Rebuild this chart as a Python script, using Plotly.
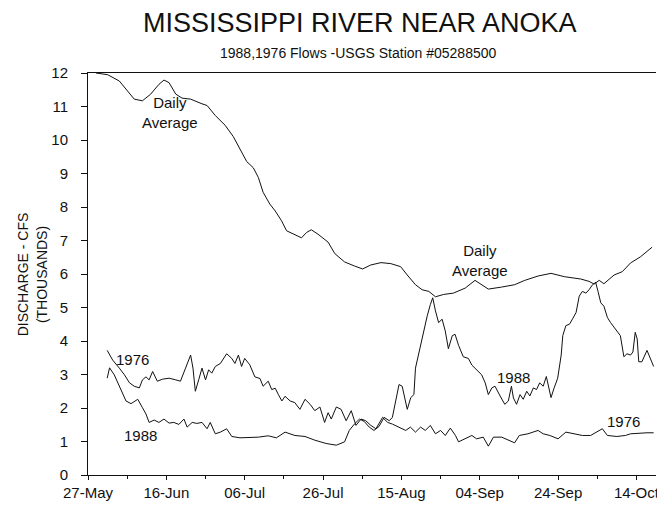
import plotly.graph_objects as go

# x positions are days after 27-May
tick_days = [0, 20, 40, 60, 80, 100, 120, 140]
tick_labels = ["27-May", "16-Jun", "06-Jul", "26-Jul", "15-Aug", "04-Sep", "24-Sep", "14-Oct"]

avg_day = [2, 5, 8.0, 10.1, 11.8, 13.9, 16.0, 18.1, 19.4, 20.7,
           22.4, 24.0, 26.2, 29.1, 30.4, 32.5, 35.0, 37.1, 38.8, 40.5,
           42.2, 43.5, 44.7, 46.4, 47.8, 49.4, 50.7, 52.4, 54.5, 55.8,
           57.0, 58.7, 61.3, 63.0, 65.5, 68.0, 70.1, 72.2, 74.8, 77.3,
           79.8, 81.5, 83.6, 85.3, 87.0, 88.7, 90.8, 93.3, 96.3, 98.8,
           102.2, 105.6, 108.9, 111.5, 114.9, 118.2, 121.6, 125.8, 127.9, 129.2,
           130.5, 131.7, 134.3, 136.4, 138.5, 141.0, 144.0]
avg_flow = [12.0, 11.95, 11.76, 11.47, 11.22, 11.17, 11.37, 11.66, 11.79, 11.71,
            11.37, 11.25, 11.22, 11.08, 11.03, 10.73, 10.44, 10.10, 9.71, 9.36,
            9.17, 8.88, 8.44, 8.09, 7.88, 7.59, 7.29, 7.19, 7.08, 7.24,
            7.32, 7.19, 6.95, 6.61, 6.36, 6.24, 6.15, 6.27, 6.34, 6.31,
            6.22, 5.97, 5.68, 5.53, 5.48, 5.32, 5.39, 5.43, 5.58, 5.81,
            5.55, 5.61, 5.68, 5.81, 5.94, 6.02, 5.92, 5.85, 5.78, 5.70,
            5.81, 5.71, 5.97, 6.07, 6.33, 6.51, 6.80]

day_1988 = [4.9, 5.5, 6.7, 8.4, 9.7, 11.0, 12.7, 13.9, 14.8, 15.6,
            16.9, 18.1, 19.4, 20.7, 21.9, 23.2, 24.5, 25.3, 26.6, 27.8,
            29.1, 30.4, 31.2, 32.5, 33.8, 35.4, 36.7, 38.8, 41.3, 43.5,
            46.0, 48.1, 50.3, 52.8, 55.4, 57.9, 60.8, 63.4, 65.5, 66.7,
            68.0, 69.3, 70.5, 71.8, 73.0, 74.3, 75.6, 76.9, 77.7, 78.6,
            79.4, 80.2, 81.5, 82.4, 83.2, 83.6, 84.5, 85.3, 86.6, 87.4,
            88.0, 88.7, 89.5, 90.4, 91.2, 92.0, 93.0, 93.7, 94.6, 95.8,
            97.1, 98.0, 99.2, 100.5, 101.4, 102.2, 103.1, 103.9, 105.2, 106.4,
            107.3, 108.1, 108.6, 109.4, 110.3, 111.1, 112.0, 112.8, 113.7, 114.5,
            115.3, 116.2, 117.0, 117.5, 118.2, 119.0, 119.9, 120.8, 121.2, 122.0,
            122.9, 123.7, 124.6, 125.4, 126.2, 127.1, 127.9, 128.8, 129.6, 130.2,
            130.9, 131.7, 132.6, 133.4, 134.7, 135.9, 136.8, 137.6, 138.5, 139.1,
            139.7, 140.2, 140.6, 141.4, 142.7, 143.5, 144.4]
flow_1988 = [2.89, 3.20, 2.99, 2.55, 2.21, 2.13, 2.26, 2.01, 1.82, 1.57,
             1.64, 1.57, 1.67, 1.55, 1.57, 1.51, 1.67, 1.43, 1.57, 1.54,
             1.57, 1.38, 1.57, 1.23, 1.28, 1.38, 1.15, 1.11, 1.11, 1.13,
             1.17, 1.11, 1.28, 1.18, 1.15, 1.04, 0.94, 0.89, 0.99, 1.33,
             1.52, 1.67, 1.60, 1.43, 1.33, 1.45, 1.72, 1.62, 1.72, 2.21,
             2.70, 2.65, 1.96, 2.31, 2.40, 3.19, 3.67, 4.16, 4.75, 5.09,
             5.29, 4.90, 4.55, 4.65, 4.30, 3.77, 4.16, 4.20, 3.87, 3.53,
             3.48, 3.28, 3.15, 2.99, 2.75, 2.40, 2.60, 2.65, 2.36, 2.11,
             2.21, 2.65, 2.30, 2.11, 2.40, 2.26, 2.50, 2.36, 2.60, 2.55,
             2.75, 2.65, 2.94, 2.65, 2.31, 2.60, 2.89, 3.58, 4.16, 4.46,
             4.50, 4.66, 4.85, 5.34, 5.48, 5.43, 5.53, 5.68, 5.75, 5.48,
             5.14, 5.04, 4.70, 4.55, 4.36, 4.16, 3.53, 3.62, 3.58, 3.67,
             4.26, 4.06, 3.38, 3.38, 3.72, 3.48, 3.24]

day_1976 = [4.9, 6.3, 8.0, 9.3, 10.6, 11.8, 13.1, 13.9, 14.8, 15.6,
            16.5, 17.7, 19.0, 20.7, 22.4, 23.6, 24.9, 26.2, 26.8, 27.4,
            28.3, 29.1, 30.0, 30.8, 31.6, 32.5, 33.8, 35.4, 36.7, 37.5,
            38.4, 39.2, 40.0, 41.3, 42.6, 43.9, 44.7, 46.0, 46.9, 47.8,
            48.6, 49.5, 50.3, 51.6, 52.8, 54.1, 55.4, 56.7, 57.9, 59.2,
            60.4, 61.3, 62.1, 63.4, 64.6, 65.9, 67.2, 68.4, 69.7, 70.9,
            72.2, 73.5, 75.2, 76.5, 77.7, 79.4, 81.1, 82.3, 83.6, 84.9,
            86.1, 87.4, 88.7, 90.0, 91.2, 92.5, 93.8, 94.6, 96.3, 98.0,
            99.2, 100.9, 102.2, 103.5, 105.6, 107.3, 108.9, 110.1, 112.3, 114.9,
            116.2, 117.9, 120.0, 122.0, 124.2, 126.2, 128.3, 130.0, 131.3, 132.6,
            135.0, 137.2, 138.5, 142.7, 144.4]
flow_1976 = [3.72, 3.43, 3.19, 2.99, 2.75, 2.65, 2.60, 2.84, 2.93, 2.84,
             3.09, 2.80, 2.86, 2.89, 2.84, 2.80, 3.19, 3.58, 3.19, 2.50,
             2.86, 3.19, 2.84, 3.14, 3.04, 3.24, 3.33, 3.62, 3.48, 3.33,
             3.58, 3.24, 3.48, 3.29, 2.93, 2.88, 2.65, 2.80, 2.55, 2.59,
             2.40, 2.21, 2.35, 2.21, 2.16, 1.96, 2.26, 2.11, 1.92, 2.03,
             1.57, 1.86, 1.67, 2.03, 1.96, 1.62, 1.92, 1.48, 1.67, 1.62,
             1.48, 1.38, 1.72, 1.57, 1.52, 1.43, 1.33, 1.43, 1.28, 1.43,
             1.33, 1.48, 1.23, 1.33, 1.18, 1.40, 1.18, 0.99, 1.08, 1.18,
             1.08, 1.13, 0.86, 1.13, 1.13, 1.04, 0.96, 1.18, 1.23, 1.33,
             1.23, 1.18, 1.08, 1.28, 1.23, 1.18, 1.18, 1.28, 1.38, 1.18,
             1.15, 1.18, 1.23, 1.26, 1.26]

font = "Liberation Sans, Arial, sans-serif"
ink = "#111111"

fig = go.Figure()
for xs, ys, name in [(avg_day, avg_flow, "Daily Average"),
                     (day_1988, flow_1988, "1988"),
                     (day_1976, flow_1976, "1976")]:
    fig.add_trace(go.Scatter(x=xs, y=ys, mode="lines", name=name,
                             line=dict(color=ink, width=1)))

labels = [
    (21.0, 10.82, "Daily<br>Average"),
    (100.0, 6.39, "Daily<br>Average"),
    (11.4, 3.45, "1976"),
    (13.3, 1.17, "1988"),
    (108.7, 2.92, "1988"),
    (136.8, 1.61, "1976"),
]
for x, y, t in labels:
    fig.add_annotation(x=x, y=y, text=t, showarrow=False,
                       font=dict(size=15, color=ink, family=font))

# text placed around the plot
fig.add_annotation(xref="paper", yref="paper", x=0.479, y=1.125,
                   xanchor="center", yanchor="middle",
                   text="MISSISSIPPI RIVER NEAR ANOKA", showarrow=False,
                   font=dict(size=27, color=ink,
                             family="Liberation Sans Narrow, Arial Narrow, Liberation Sans, sans-serif"))
fig.add_annotation(xref="paper", yref="paper", x=0.476, y=1.049,
                   xanchor="center", yanchor="middle",
                   text="1988,1976 Flows -USGS Station #05288500", showarrow=False,
                   font=dict(size=14, color=ink, family=font))
fig.add_annotation(xref="paper", yref="paper", x=-0.098, y=0.50,
                   xanchor="center", yanchor="middle",
                   text="DISCHARGE - CFS<br>(THOUSANDS)", showarrow=False,
                   textangle=-90, font=dict(size=14, color=ink, family=font))

# the page body adds an 8px margin, so the figure is 8px smaller than the window
fig.update_layout(
    width=657, height=498,
    margin=dict(l=80, r=5, t=65, b=24),
    paper_bgcolor="white", plot_bgcolor="white",
    showlegend=False,
    font=dict(family=font, size=15, color=ink),
)
fig.update_xaxes(
    range=[0, 145], tickmode="array", tickvals=tick_days, ticktext=tick_labels,
    showgrid=False, zeroline=False, showline=True, linecolor=ink, linewidth=1,
    mirror=True, ticks="outside", ticklen=4, tickcolor=ink,
    tickfont=dict(size=15, family=font),
    minor=dict(tickmode="linear", tick0=0, dtick=10, ticks="outside",
               ticklen=3, tickcolor=ink),
)
fig.update_yaxes(
    range=[0, 12], dtick=1, showgrid=False, zeroline=False,
    showline=True, linecolor=ink, linewidth=1,
    ticks="outside", ticklen=6, tickcolor=ink, ticklabelstandoff=10,
    tickfont=dict(size=15, family=font),
)

fig.write_html("out.html")
